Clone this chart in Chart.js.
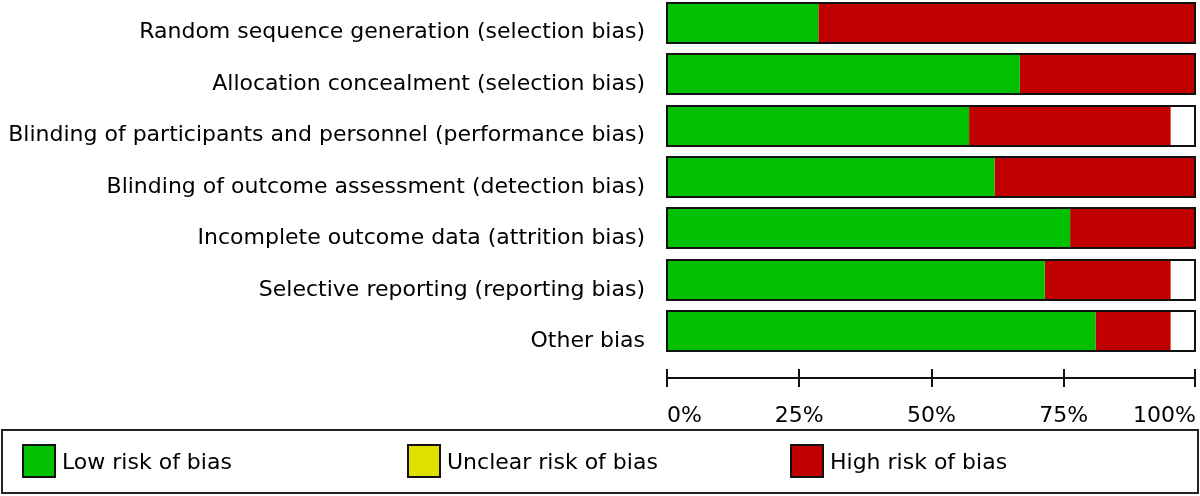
<!DOCTYPE html>
<html>
<head>
<meta charset="utf-8">
<script src="https://cdn.jsdelivr.net/npm/chart.js@4/dist/chart.umd.min.js"></script>
<style>
  html, body { margin: 0; padding: 0; background: #fff; width: 1200px; height: 496px; overflow: hidden; }
  #wrap { position: absolute; left: 0; top: -3px; width: 1200px; height: 440px; }
  #legend { position: absolute; left: 1px; top: 429px; width: 1194px; height: 61px; border: 2px solid #222; box-sizing: content-box; font-family: "DejaVu Sans", sans-serif; font-size: 22px; color: #000; }
  .item { position: absolute; top: 13px; height: 34px; display: flex; align-items: center; }
  .sw { width: 30px; height: 30px; border: 2px solid #111; margin-right: 6px; }
</style>
</head>
<body>
<div id="wrap"><canvas id="c" width="1200" height="440"></canvas></div>
<div id="legend"></div>
<script>
const categories = [
  "Random sequence generation (selection bias)",
  "Allocation concealment (selection bias)",
  "Blinding of participants and personnel (performance bias)",
  "Blinding of outcome assessment (detection bias)",
  "Incomplete outcome data (attrition bias)",
  "Selective reporting (reporting bias)",
  "Other bias"
];
const lowRisk     = [28.6, 66.7, 57.1, 61.9, 76.2, 71.4, 81.0];
const unclearRisk = [0, 0, 0, 0, 0, 0, 0];
const highRisk    = [71.4, 33.3, 38.1, 38.1, 23.8, 23.8, 14.2];
const xTicks = [0, 25, 50, 75, 100];
const seriesNames = ["Low risk of bias", "Unclear risk of bias", "High risk of bias"];
const seriesColors = ["#00c000", "#e0e000", "#c00000"];

const FONT = { family: "DejaVu Sans", size: 22 };

const outlinePlugin = {
  id: 'outline',
  afterDatasetsDraw(chart) {
    const ctx = chart.ctx;
    const xs = chart.scales.x;
    const meta = chart.getDatasetMeta(0);
    const x0 = xs.getPixelForValue(0), x1 = xs.getPixelForValue(100);
    ctx.save();
    ctx.strokeStyle = '#111';
    ctx.lineWidth = 2;
    meta.data.forEach(el => {
      const h = el.height;
      const top = el.y - h / 2;
      ctx.strokeRect(Math.round(x0), Math.round(top), Math.round(x1 - x0) - 1, Math.round(h));
    });
    const ay = chart.chartArea.bottom + 21;
    ctx.beginPath();
    ctx.moveTo(x0, ay); ctx.lineTo(x1, ay);
    xTicks.forEach(v => {
      const px = Math.round(xs.getPixelForValue(v)) - (v === 100 ? 1 : 0);
      ctx.moveTo(px, ay - 9); ctx.lineTo(px, ay + 9);
    });
    ctx.stroke();
    ctx.restore();
  }
};

function zeroPad(s) { s.paddingTop = 0; s.paddingBottom = 0; s.paddingLeft = 0; s.paddingRight = 0; }

new Chart(document.getElementById('c'), {
  type: 'bar',
  data: {
    labels: categories,
    datasets: [
      { label: seriesNames[0], data: lowRisk, backgroundColor: seriesColors[0] },
      { label: seriesNames[1], data: unclearRisk, backgroundColor: seriesColors[1] },
      { label: seriesNames[2], data: highRisk, backgroundColor: seriesColors[2] }
    ]
  },
  options: {
    indexAxis: 'y',
    responsive: false,
    animation: false,
    devicePixelRatio: 1,
    layout: { padding: { top: 0, right: 4, left: 0, bottom: 0 } },
    datasets: { bar: { barPercentage: 0.78, categoryPercentage: 1, borderWidth: 0, borderSkipped: false } },
    plugins: { legend: { display: false }, tooltip: { enabled: false } },
    scales: {
      x: {
        stacked: true, min: 0, max: 100,
        afterBuildTicks(s) { s.ticks = xTicks.map(v => ({ value: v })); },
        grid: { display: false }, border: { display: false },
        ticks: { font: FONT, color: '#000', align: 'inner', padding: 38, callback: v => v + '%' },
        afterFit(s) { s.height = 80; zeroPad(s); }
      },
      y: {
        stacked: true,
        grid: { display: false }, border: { display: false },
        ticks: { font: FONT, color: '#000', padding: 14, labelOffset: 10, autoSkip: false },
        afterFit(s) { s.width = 667; zeroPad(s); }
      }
    }
  },
  plugins: [outlinePlugin]
});

const legend = document.getElementById('legend');
const legendX = [19, 404, 787];
seriesNames.forEach((n, i) => {
  const d = document.createElement('div');
  d.className = 'item';
  d.style.left = legendX[i] + 'px';
  const sw = document.createElement('div');
  sw.className = 'sw';
  sw.style.background = seriesColors[i];
  const t = document.createElement('span');
  t.textContent = n;
  d.appendChild(sw); d.appendChild(t);
  legend.appendChild(d);
});
</script>
</body>
</html>
